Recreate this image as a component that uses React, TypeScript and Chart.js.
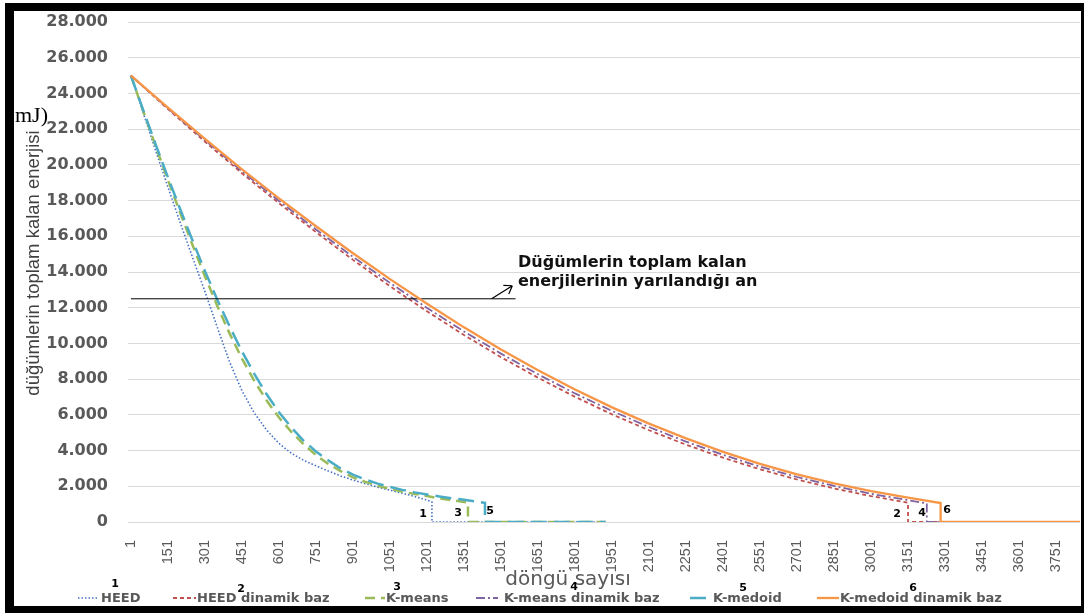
import { useEffect, useRef } from "react";
import { Chart, registerables } from "chart.js";

Chart.register(...registerables);

// x-axis labels (round numbers)
const roundTicks = [
  1, 151, 301, 451, 601, 751, 901, 1051, 1201, 1351, 1501, 1651, 1801, 1951,
  2101, 2251, 2401, 2551, 2701, 2851, 3001, 3151, 3301, 3451, 3601, 3751,
];

// Static base station: HEED
const heedRounds = [
  1, 51, 101, 151, 201, 251, 301, 351, 401, 451, 501, 551, 601, 651, 701, 751,
  801, 851, 901, 951, 1001, 1051, 1101, 1151, 1201, 1221, 1221, 1925,
];
const heedEnergy = [
  25000, 22900, 20800, 18750, 16750, 14800, 12900, 10900, 8950, 7350, 6100,
  5150, 4400, 3850, 3450, 3150, 2850, 2580, 2350, 2150, 1950, 1780, 1610, 1430,
  1230, 1120, 0, 0,
];

// Static base station: K-means
const kmeansRounds = [
  1, 51, 101, 151, 201, 251, 301, 351, 401, 451, 501, 551, 601, 651, 701, 751,
  801, 851, 901, 951, 1001, 1051, 1101, 1151, 1201, 1251, 1301, 1351, 1367,
  1367, 1925,
];
const kmeansEnergy = [
  25000, 23000, 21050, 19150, 17300, 15500, 13750, 12100, 10550, 9150, 7900,
  6800, 5850, 5050, 4350, 3750, 3250, 2850, 2500, 2250, 2030, 1850, 1700, 1570,
  1460, 1320, 1220, 1120, 1090, 0, 0,
];

// Static base station: K-medoid
const kmedoidRounds = [
  1, 51, 101, 151, 201, 251, 301, 351, 401, 451, 501, 551, 601, 651, 701, 751,
  801, 851, 901, 951, 1001, 1051, 1101, 1151, 1201, 1251, 1301, 1351, 1401,
  1436, 1436, 1925,
];
const kmedoidEnergy = [
  25000, 23050, 21150, 19300, 17500, 15750, 14050, 12450, 10950, 9550, 8300,
  7150, 6150, 5300, 4550, 3950, 3450, 3000, 2650, 2380, 2150, 1960, 1800, 1660,
  1540, 1430, 1330, 1240, 1150, 1070, 0, 0,
];

// Dynamic base station: HEED
const heedDynRounds = [
  1, 151, 301, 451, 601, 751, 901, 1051, 1201, 1351, 1501, 1651, 1801, 1951,
  2101, 2251, 2401, 2551, 2701, 2851, 3001, 3151, 3151, 3850,
];
const heedDynEnergy = [
  25000, 23120, 21300, 19530, 17850, 16230, 14680, 13200, 11800, 10470, 9230,
  8080, 7010, 6030, 5140, 4330, 3600, 2950, 2380, 1880, 1450, 1080, 0, 0,
];

// Dynamic base station: K-means
const kmeansDynRounds = [
  1, 151, 301, 451, 601, 751, 901, 1051, 1201, 1351, 1501, 1651, 1801, 1951,
  2101, 2251, 2401, 2551, 2701, 2851, 3001, 3151, 3227, 3227, 3850,
];
const kmeansDynEnergy = [
  25000, 23160, 21380, 19640, 17980, 16380, 14850, 13390, 11990, 10670, 9430,
  8270, 7200, 6220, 5320, 4500, 3760, 3100, 2520, 2020, 1580, 1220, 1040, 0, 0,
];

// Dynamic base station: K-medoid
const kmedoidDynRounds = [
  1, 151, 301, 451, 601, 751, 901, 1051, 1201, 1351, 1501, 1651, 1801, 1951,
  2101, 2251, 2401, 2551, 2701, 2851, 3001, 3151, 3283, 3283, 3850,
];
const kmedoidDynEnergy = [
  25000, 23200, 21450, 19750, 18120, 16560, 15050, 13600, 12220, 10900, 9660,
  8500, 7420, 6420, 5510, 4680, 3930, 3260, 2670, 2160, 1730, 1360, 1060, 0, 0,
];

// Half of the initial total energy, and the arrow pointing at its note
const halfRounds = [1, 1560];
const halfEnergy = [12500, 12500];
const arrowRounds = [1463, 1547];
const arrowEnergy = [12500, 13230];

const seriesLabels = [
  "HEED",
  "HEED dinamik baz",
  "K-means",
  "K-means dinamik baz",
  "K-medoid",
  "K-medoid dinamik baz",
];

const toPoints = (xs: number[], ys: number[]) =>
  xs.map((x, i) => ({ x, y: ys[i] }));

type LineStyle = { color: string; width: number; dash: number[] };

const styles: LineStyle[] = [
  { color: "#4472C4", width: 1.6, dash: [1.5, 2] },
  { color: "#C0504D", width: 1.8, dash: [4, 3] },
  { color: "#9BBB59", width: 2.5, dash: [10, 6] },
  { color: "#8064A2", width: 1.8, dash: [9, 3, 2, 3] },
  { color: "#4BACC6", width: 2.5, dash: [16, 7] },
  { color: "#F79646", width: 2.3, dash: [] },
];

const arrowPlugin = {
  id: "halfArrow",
  afterDatasetsDraw(chart: any) {
    const { ctx, scales } = chart;
    const x0 = scales.x.getPixelForValue(arrowRounds[0]);
    const y0 = scales.y.getPixelForValue(arrowEnergy[0]);
    const x1 = scales.x.getPixelForValue(arrowRounds[1]);
    const y1 = scales.y.getPixelForValue(arrowEnergy[1]);
    const ang = Math.atan2(y1 - y0, x1 - x0);
    const head = 9;
    ctx.save();
    ctx.strokeStyle = "#000";
    ctx.lineWidth = 1.2;
    ctx.beginPath();
    ctx.moveTo(x0, y0);
    ctx.lineTo(x1, y1);
    ctx.moveTo(x1, y1);
    ctx.lineTo(x1 - head * Math.cos(ang - 0.6), y1 - head * Math.sin(ang - 0.6));
    ctx.moveTo(x1, y1);
    ctx.lineTo(x1 - head * Math.cos(ang + 0.6), y1 - head * Math.sin(ang + 0.6));
    ctx.stroke();
    ctx.restore();
  },
};

const legendItems = [
  { sampleLeft: 78, sampleWidth: 21, textLeft: 101, num: "1", numX: 115, numY: 583 },
  { sampleLeft: 173, sampleWidth: 23, textLeft: 197, num: "2", numX: 241, numY: 588 },
  { sampleLeft: 365, sampleWidth: 20, textLeft: 386, num: "3", numX: 397, numY: 586 },
  { sampleLeft: 476, sampleWidth: 22, textLeft: 504, num: "4", numX: 574, numY: 586 },
  { sampleLeft: 690, sampleWidth: 20, textLeft: 713, num: "5", numX: 743, numY: 587 },
  { sampleLeft: 817, sampleWidth: 22, textLeft: 840, num: "6", numX: 913, numY: 587 },
];

// Markers naming the moment each series runs out
const dropMarks = [
  { text: "1", x: 423, y: 513 },
  { text: "3", x: 458, y: 512 },
  { text: "5", x: 490, y: 510 },
  { text: "2", x: 897, y: 513 },
  { text: "4", x: 922, y: 512 },
  { text: "6", x: 947, y: 509 },
];

export default function App() {
  const canvasRef = useRef<HTMLCanvasElement | null>(null);

  useEffect(() => {
    const canvas = canvasRef.current;
    if (!canvas) return;

    const series = [
      toPoints(heedRounds, heedEnergy),
      toPoints(heedDynRounds, heedDynEnergy),
      toPoints(kmeansRounds, kmeansEnergy),
      toPoints(kmeansDynRounds, kmeansDynEnergy),
      toPoints(kmedoidRounds, kmedoidEnergy),
      toPoints(kmedoidDynRounds, kmedoidDynEnergy),
    ];
    // smaller order is painted later (on top)
    const drawOrder = [6, 3, 5, 2, 4, 0];

    const datasets: any[] = series.map((data, i) => ({
      label: seriesLabels[i],
      data,
      borderColor: styles[i].color,
      backgroundColor: styles[i].color,
      borderWidth: styles[i].width,
      borderDash: styles[i].dash,
      pointRadius: 0,
      fill: false,
      tension: 0,
      order: drawOrder[i],
    }));
    datasets.push({
      label: "half",
      data: toPoints(halfRounds, halfEnergy),
      borderColor: "#000",
      borderWidth: 1,
      pointRadius: 0,
      fill: false,
      order: 1,
    });

    const chart = new Chart(canvas, {
      type: "line",
      data: { datasets },
      options: {
        animation: false,
        responsive: false,
        maintainAspectRatio: false,
        layout: { padding: { left: 0, right: 4, top: 22, bottom: 0 } },
        plugins: {
          legend: { display: false },
          tooltip: { enabled: false },
        },
        scales: {
          x: {
            type: "linear",
            min: -11,
            max: 3848,
            grid: { display: false },
            border: { display: false },
            afterBuildTicks: (scale: any) => {
              scale.ticks = roundTicks.map((v) => ({ value: v }));
            },
            afterFit: (scale: any) => {
              scale.height = 91;
            },
            ticks: {
              autoSkip: false,
              minRotation: 90,
              maxRotation: 90,
              padding: 10,
              color: "#595959",
              font: { family: "'Liberation Sans', Arial, sans-serif", size: 14.5 },
              callback: (v: any) => String(v),
            },
          },
          y: {
            min: 0,
            max: 28000,
            grid: { color: "#d9d9d9", lineWidth: 1, drawTicks: false },
            border: { display: false },
            afterFit: (scale: any) => {
              scale.width = 128;
              scale.paddingTop = 0;
              scale.paddingBottom = 0;
            },
            ticks: {
              stepSize: 2000,
              padding: 20,
              color: "#595959",
              font: { family: "'DejaVu Sans', sans-serif", size: 16, weight: "bold" },
              callback: (v: any) => (v === 0 ? "0" : (Number(v) / 1000).toFixed(3)),
            },
          },
        },
      },
      plugins: [arrowPlugin],
    });

    return () => chart.destroy();
  }, []);

  const legendFont = "bold 13px 'DejaVu Sans', sans-serif";

  return (
    <div
      style={{
        position: "absolute",
        left: 0,
        top: 0,
        width: 1084,
        height: 613,
        background: "#fff",
        overflow: "hidden",
      }}
    >
      <canvas
        ref={canvasRef}
        width={1084}
        height={613}
        style={{ position: "absolute", left: 0, top: 0, width: 1084, height: 613 }}
      />

      {/* y-axis title */}
      <div
        style={{
          position: "absolute",
          left: 33,
          top: 263,
          transform: "translate(-50%, -50%) rotate(-90deg)",
          whiteSpace: "nowrap",
          font: "18.5px 'Liberation Sans', Arial, sans-serif",
          color: "#404040",
          lineHeight: "22px",
        }}
      >
        düğümlerin toplam kalan enerjisi
      </div>

      {/* unit fragment over the axis */}
      <div
        style={{
          position: "absolute",
          left: 15,
          top: 104,
          font: "22px 'Liberation Serif', 'Times New Roman', serif",
          lineHeight: "22px",
          color: "#000",
          whiteSpace: "nowrap",
        }}
      >
        mJ)
      </div>

      {/* x-axis title */}
      <div
        style={{
          position: "absolute",
          left: 568,
          top: 578,
          transform: "translate(-50%, -50%)",
          whiteSpace: "nowrap",
          font: "20px 'DejaVu Sans', sans-serif",
          color: "#595959",
        }}
      >
        döngü sayısı
      </div>

      {/* note for the half-energy line */}
      <div
        style={{
          position: "absolute",
          left: 518,
          top: 252,
          font: "bold 16px 'DejaVu Sans', sans-serif",
          lineHeight: "19px",
          color: "#111",
          whiteSpace: "nowrap",
        }}
      >
        Düğümlerin toplam kalan
        <br />
        enerjilerinin yarılandığı an
      </div>

      {dropMarks.map((m) => (
        <div
          key={"d" + m.text}
          style={{
            position: "absolute",
            left: m.x,
            top: m.y,
            transform: "translate(-50%, -50%)",
            font: "bold 11px 'DejaVu Sans', sans-serif",
            color: "#000",
          }}
        >
          {m.text}
        </div>
      ))}

      {/* legend */}
      {legendItems.map((it, i) => (
        <div key={"l" + i}>
          <svg
            width={it.sampleWidth}
            height={10}
            style={{ position: "absolute", left: it.sampleLeft, top: 593 }}
          >
            <line
              x1={0}
              y1={5}
              x2={it.sampleWidth}
              y2={5}
              stroke={styles[i].color}
              strokeWidth={styles[i].width}
              strokeDasharray={styles[i].dash.length ? styles[i].dash.join(" ") : undefined}
            />
          </svg>
          <div
            style={{
              position: "absolute",
              left: it.textLeft,
              top: 590,
              font: legendFont,
              lineHeight: "16px",
              color: "#595959",
              whiteSpace: "nowrap",
            }}
          >
            {seriesLabels[i]}
          </div>
          <div
            style={{
              position: "absolute",
              left: it.numX,
              top: it.numY,
              transform: "translate(-50%, -50%)",
              font: "bold 11px 'DejaVu Sans', sans-serif",
              color: "#000",
            }}
          >
            {it.num}
          </div>
        </div>
      ))}

      {/* frame */}
      <div
        style={{
          position: "absolute",
          left: 5,
          top: 3,
          width: 1079,
          height: 610,
          boxSizing: "border-box",
          borderStyle: "solid",
          borderColor: "#000",
          borderWidth: "8px 3px 7px 9px",
          pointerEvents: "none",
        }}
      />
    </div>
  );
}
